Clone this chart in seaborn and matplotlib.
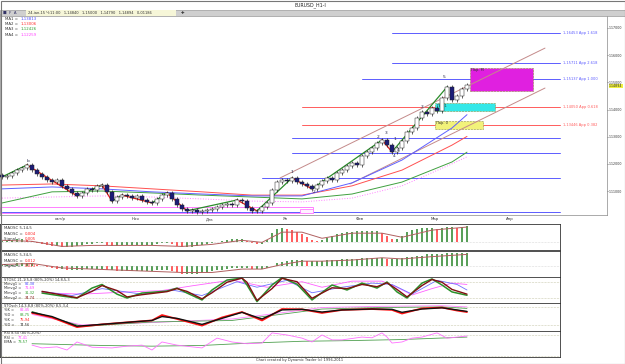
import matplotlib
matplotlib.use("Agg")
import numpy as np
import pandas as pd
import matplotlib.pyplot as plt
import seaborn as sns
from matplotlib.patches import Rectangle

sns.set_theme(style="white")
plt.rcParams["font.family"] = ["DejaVu Sans"]

# --- price data (H1 candles, one per index) ---
closes = [1.1152, 1.1155, 1.1166, 1.1177, 1.1185, 1.1196, 1.1177, 1.1163, 1.1152, 1.1141,
          1.1133, 1.1140, 1.1119, 1.1108, 1.1093, 1.1082, 1.1093, 1.1108, 1.1104, 1.1119,
          1.1122, 1.1097, 1.1063, 1.1078, 1.1085, 1.1082, 1.1074, 1.1080, 1.1067, 1.1060,
          1.1056, 1.1071, 1.1085, 1.1093, 1.1071, 1.1049, 1.1034, 1.1027, 1.1031, 1.1025,
          1.1027, 1.1030, 1.1034, 1.1041, 1.1049, 1.1052, 1.1048, 1.1067, 1.1063, 1.1038,
          1.1027, 1.1027, 1.1041, 1.1056, 1.1104, 1.1133, 1.1141, 1.1136, 1.1148, 1.1133,
          1.1126, 1.1119, 1.1108, 1.1122, 1.1137, 1.1148, 1.1143, 1.1166, 1.1177, 1.1192,
          1.1203, 1.1198, 1.1229, 1.1244, 1.1258, 1.1277, 1.1288, 1.1269, 1.1244, 1.1258,
          1.1284, 1.1317, 1.1332, 1.1369, 1.1391, 1.1384, 1.1406, 1.1395, 1.1442, 1.1483,
          1.1435, 1.1450, 1.1476, 1.1489]
first_open = 1.1158
wick = 0.0008

# moving averages, sampled along the candles
ma_idx = [0, 10, 20, 30, 40, 50, 60, 70, 80, 90, 93]
ma1 = [1.1108, 1.1115, 1.1108, 1.1097, 1.1089, 1.1082, 1.1082, 1.1130, 1.1214, 1.1332, 1.1381]
ma2 = [1.1122, 1.1126, 1.1119, 1.1108, 1.1097, 1.1085, 1.1085, 1.1119, 1.1177, 1.1269, 1.1301]
ma3 = [1.1056, 1.1097, 1.1100, 1.1093, 1.1085, 1.1078, 1.1071, 1.1089, 1.1133, 1.1207, 1.1243]
ma4 = [1.1074, 1.1078, 1.1082, 1.1078, 1.1071, 1.1063, 1.1060, 1.1074, 1.1119, 1.1200, 1.1226]
ma_values = ["1,13813", "1,13006", "1,12426", "1,12259"]

# zigzag pivots (candle indices)
zz_idx = [0, 5, 15, 20, 22, 24, 30, 33, 37, 47, 51, 58, 62, 76, 78, 89]

# channel lines: (start idx, start price, end idx, end price)
channels = [(55.6, 1.1148, 108.6, 1.1626), (69.6, 1.1126, 108.6, 1.1479)]

# fibonacci levels: (start idx, price, colour key, label)
fib_levels = [(78, 1.1682, "b", "1,16453 App 1.618"), (78, 1.1571, "b", "1,15711 App 2.618"),
              (72, 1.1512, "b", "1,15137 App 1.000"), (60, 1.1409, "r", "1,14050 App 0.618"),
              (60, 1.1343, "r", "1,13446 App 0.382"), (58, 1.1295, "b", ""),
              (58, 1.1240, "b", ""), (52, 1.1148, "b", ""), (0, 1.1023, "b", "")]

# support band at the lows: (x0, x1, low, high)
low_band = (-0.4, 62.2, 1.1019, 1.1041)

# target zones: (x0, x1, low, high, colour, label)
zones = [(93.6, 106.2, 1.1468, 1.1553, "#e020e0", "Пар. М"),
         (86.6, 98.6, 1.1395, 1.1424, "#33e8e8", "Пар.1"),
         (86.6, 96.2, 1.1328, 1.1358, "#f2f27a", "Пар. 0")]

wave_labels = [(5.2, 1.1210, "b"), (58, 1.1170, "1"), (62.5, 1.1098, "2"), (75.2, 1.1300, "2"),
               (76.8, 1.1312, "3"), (78.6, 1.1290, "1"), (79.2, 1.1250, "4"), (78.4, 1.1228, "4"),
               (84, 1.1410, "3"), (88.4, 1.1520, "5")]

date_idx = [11.6, 26.6, 41.6, 56.6, 71.6, 86.6, 101.6]
date_labels = ["окт/р", "Ноя", "Дек", "Ян", "Фев", "Мар", "Апр"]
price_ticks = [1.17, 1.16, 1.15, 1.14, 1.13, 1.12, 1.11]
last_price = "1,14894"

# --- MAOSC 5,14,5 and 5,34,5 histograms (one bar per candle) ---
maosc1 = [1, 2, 2, 3, 3, 2, 1, -1, -2, -3, -4, -4, -5, -5, -5, -4, -3, -2, -2, -1,
          -1, -3, -4, -4, -3, -3, -3, -3, -3, -3, -3, -2, -1, -1, -2, -4, -5, -5, -5, -4,
          -3, -2, -1, 0, 1, 2, 3, 3, 3, 1, -1, -2, -2, 2, 9, 13, 14, 13, 12, 10,
          8, 5, 2, 1, 2, 4, 6, 8, 9, 10, 10, 11, 11, 11, 11, 11, 9, 6, 3, 3,
          6, 10, 12, 13, 14, 14, 14, 13, 14, 15, 15, 14, 15, 16]
maosc2 = [1, 1, 1, 2, 2, 2, 2, 1, 0, -1, -2, -3, -3, -4, -4, -4, -4, -3, -3, -3,
          -3, -4, -4, -5, -5, -5, -5, -5, -5, -5, -5, -4, -4, -4, -5, -6, -7, -7, -7, -7,
          -6, -6, -5, -4, -4, -3, -2, -2, -2, -2, -3, -3, -3, -2, 0, 2, 3, 4, 5, 5,
          5, 4, 4, 4, 4, 5, 5, 5, 6, 6, 6, 6, 7, 7, 7, 7, 7, 6, 6, 6,
          7, 8, 8, 9, 9, 10, 10, 10, 10, 11, 11, 11, 11, 11]
sig_idx = [0, 6, 12, 18, 24, 30, 36, 42, 48, 52, 56, 60, 64, 70, 76, 80, 86, 93]
sig1 = [2, 1, -4, -3, -3, -3, -4, -2, 2, 0, 10, 10, 4, 9, 9, 5, 12, 15]
sig2 = [1, 2, -2, -3, -4, -5, -6, -6, -3, -3, 1, 4, 4, 5, 7, 6, 8, 10]

# --- STOSC ---
st_idx = [8, 12, 15, 18, 20, 23, 25, 28, 33, 35, 37, 40, 42, 45, 48, 49, 51, 54, 56, 59,
          62, 66, 69, 72, 75, 77, 79, 81, 84, 86, 88, 90, 93]
st_fast = [39, 28, 21, 57, 70, 35, 21, 39, 46, 57, 39, 14, 50, 86, 93, 68, 8, 68, 95, 71,
           14, 68, 50, 75, 57, 79, 43, 21, 75, 90, 68, 43, 31]
st_fast2 = [45, 32, 22, 45, 66, 48, 25, 33, 44, 55, 45, 18, 40, 78, 93, 78, 12, 55, 92, 80,
            20, 58, 55, 70, 62, 76, 52, 25, 66, 88, 78, 52, 35]
st_b_idx = [8, 14, 20, 24, 28, 34, 40, 47, 51, 57, 62, 68, 74, 78, 82, 87, 91, 93]
st_blue = [45, 30, 55, 45, 35, 50, 30, 80, 60, 85, 40, 60, 75, 70, 35, 85, 70, 50]
st_m_idx = [8, 16, 24, 32, 38, 46, 53, 60, 64, 70, 76, 79, 82, 86, 90, 93]
st_mag = [40, 35, 42, 48, 65, 86, 60, 80, 60, 82, 82, 60, 32, 55, 75, 70]

# --- STOsch ---
sk_idx = [6, 10, 15, 20, 26, 30, 32, 35, 40, 44, 48, 52, 56, 60, 64, 68, 74, 78, 80, 84, 88, 91, 93]
sk_k = [60, 45, 13, 22, 30, 35, 53, 40, 18, 45, 63, 35, 73, 72, 60, 70, 73, 70, 58, 75, 78, 68, 63]
sk_d = [62, 48, 16, 22, 30, 35, 48, 42, 22, 42, 62, 40, 70, 72, 63, 70, 73, 72, 62, 73, 77, 70, 65]
sk_s_idx = [6, 16, 30, 46, 58, 64, 76, 88, 93]
sk_slow_k = [65, 15, 30, 35, 60, 73, 78, 80, 75]
sk_slow_d = [55, 20, 28, 40, 65, 78, 82, 84, 80]

# --- RSI ---
rsi_idx = [6, 8, 11, 13, 15, 18, 22, 25, 28, 30, 32, 35, 38, 40, 43, 46, 49, 52, 54, 57,
           60, 62, 64, 66, 68, 70, 72, 74, 76, 77, 78, 80, 82, 84, 87, 89, 91, 93]
rsi = [51, 43, 46, 37, 60, 45, 43, 48, 51, 37, 60, 51, 46, 43, 71, 60, 55, 57, 86, 80,
       71, 60, 80, 66, 66, 70, 74, 72, 86, 74, 57, 60, 71, 74, 86, 71, 74, 77]
ema_idx = [6, 20, 30, 40, 50, 60, 70, 80, 93]
rsi_ema = [55, 50, 48, 50, 57, 62, 64, 67, 74]

W, H = 625, 364
fig = plt.figure(figsize=(W / 100, H / 100), dpi=100)


def box(x0, y0, x1, y1):
    return [x0 / W, 1 - y1 / H, (x1 - x0) / W, (y1 - y0) / H]


def line(ax, xs, ys, color, lw=0.8, ls="-"):
    d = pd.DataFrame({"x": xs, "y": ys})
    sns.lineplot(data=d, x="x", y="y", ax=ax, color=color, lw=lw, ls=ls,
                 estimator=None, sort=False, legend=False)


XL = -0.4
PX = 5.0

# ---------------- main price panel ----------------
ax = fig.add_axes(box(0, 14, 607, 215))
n = len(closes)
idx = np.arange(n)
opens = [first_open] + closes[:-1]
top = np.maximum(opens, closes)
bot = np.minimum(opens, closes)
up = np.array(closes) >= np.array(opens)

for lvl in fib_levels:
    x0, p, c, lab = lvl
    col = "#5c5cff" if c == "b" else "#ff5c5c"
    ax.plot([x0, 111.6], [p, p], color=col, lw=0.7)
    if lab:
        ax.text(112.2, p, lab, color=col, fontsize=2.6, va="center", ha="left")

bx0, bx1, blo, bhi = low_band
ax.add_patch(Rectangle((bx0, blo), bx1 - bx0, bhi - blo, facecolor="none",
                       edgecolor="#ff80ff", lw=0.7, zorder=2))
ax.add_patch(Rectangle((bx1 - 2.6, blo), 2.6, (bhi - blo) * 0.6, facecolor="#fff0ff",
                       edgecolor="#ff80ff", lw=0.6, zorder=2))

for z in zones:
    x0, x1, lo, hi, col, lab = z
    ax.add_patch(Rectangle((x0, lo), x1 - x0, hi - lo, facecolor=col, edgecolor="#909040",
                           lw=0.4, ls="--", zorder=2))
    ax.text(x0 + 0.3, hi - 0.0002, lab, fontsize=2.6, va="top", ha="left", color="#333333", zorder=3)

for ch in channels:
    ax.plot([ch[0], ch[2]], [ch[1], ch[3]], color="#c48a8a", lw=0.7)

line(ax, ma_idx, ma4, "#ff80ff", 0.7, ":")
line(ax, ma_idx, ma3, "#40a040", 0.7)
line(ax, ma_idx, ma2, "#ff5050", 0.7)
line(ax, ma_idx, ma1, "#6060ff", 0.7)

zz_p = [closes[i] for i in zz_idx]
for a, b in zip(range(len(zz_idx) - 1), range(1, len(zz_idx))):
    col = "#2a8c2a" if zz_p[b] > zz_p[a] else "#e81c1c"
    ax.plot([zz_idx[a], zz_idx[b]], [zz_p[a], zz_p[b]], color=col, lw=0.9, zorder=4)

ax.vlines(idx, bot - wick, top + wick, color="#222222", lw=0.5, zorder=5)
ax.bar(idx, top - bot + 0.00012, bottom=bot - 0.00006, width=0.75,
       color=np.where(up, "#ffffff", "#1c1c78"), edgecolor="#222222", lw=0.35, zorder=6)

for wl in wave_labels:
    ax.text(wl[0], wl[1], wl[2], fontsize=3.2, color="#222244", ha="center", va="center", zorder=7)

ax.set_xlim(XL, XL + 607 / PX)
ax.set_ylim(1.10118, 1.17515)
ax.yaxis.tick_right()
ax.set_yticks(price_ticks)
ax.set_yticklabels([f"{p:.5f}".replace(".", ",") for p in price_ticks], fontsize=2.3, color="#333333")
ax.tick_params(axis="y", length=0.8, width=0.4, pad=0.4)
ax.set_xticks(date_idx)
ax.set_xticklabels(date_labels, fontsize=2.8, color="#333333")
ax.tick_params(axis="x", length=1, width=0.4, pad=0.5)
for s in ax.spines.values():
    s.set_color("#888888")
    s.set_linewidth(0.5)
ax.set_xlabel("")
ax.set_ylabel("")
ax.text(609 / PX + XL, 1.14860, last_price, fontsize=2.3, va="center", ha="left", zorder=8,
        bbox=dict(boxstyle="square,pad=0.1", fc="#f0f040", ec="none"))

lx = 0.6
for k, (v, c) in enumerate(zip(ma_values, ["#4a4aff", "#ff3030", "#2f9f2f", "#ff40ff"])):
    yy = 1.1733 - k * 0.0019
    ax.text(lx, yy, f"MA{k + 1} =", fontsize=2.8, color="#333333", va="center")
    ax.text(lx + 3.2, yy, v, fontsize=2.8, color=c, va="center")

# ---------------- indicator panels ----------------
sub_w = 560
panels = [(224, 250), (251, 277), (277, 303), (303, 331), (331, 357)]
axs = [fig.add_axes(box(0, a, sub_w, b)) for a, b in panels]
for a in axs:
    a.set_xlim(XL, XL + sub_w / PX)
    a.set_xticks([])
    a.set_yticks([])
    a.set_xlabel("")
    for s in a.spines.values():
        s.set_color("#333333")
        s.set_linewidth(0.6)


def hist_panel(a, vals, sidx, sig, lo, hi, title, texts):
    v = np.array(vals, dtype=float)
    prev = np.concatenate([[v[0]], v[:-1]])
    cols = np.where(v >= prev, "#5aa05a", "#ff6060")
    a.bar(idx, v, width=0.3, color=cols, lw=0)
    a.axhline(0, color="#bbbbbb", lw=0.4, ls=":")
    line(a, sidx, sig, "#b06060", 0.7)
    a.set_ylim(lo, hi)
    a.set_ylabel("")
    a.text(0.5, hi - (hi - lo) * 0.08, title, fontsize=2.8, va="top", color="#333333")
    for k, (lab, val) in enumerate(texts):
        yy = hi - (hi - lo) * (0.3 + 0.2 * k)
        a.text(0.5, yy, lab, fontsize=2.8, va="top", color="#333333")
        a.text(4.6, yy, val, fontsize=2.8, va="top", color="#ff2020")


hist_panel(axs[0], maosc1, sig_idx, sig1, -7.5, 18, "MAOSC 5,14,5",
           [("MAOSC =", "0,004"), ("Signal =", "0,005")])
hist_panel(axs[1], maosc2, sig_idx, sig2, -10, 13, "MAOSC 5,34,5",
           [("MAOSC =", "0,012"), ("Signal =", "0,013")])

a = axs[2]
for yv in (80, 20):
    a.axhline(yv, color="#a0a070", lw=0.4, ls=":")
line(a, st_m_idx, st_mag, "#ff60ff", 0.6)
line(a, st_b_idx, st_blue, "#7070ff", 0.6)
line(a, st_idx, st_fast, "#2a902a", 1.1)
line(a, st_idx, st_fast2, "#801010", 1.0)
a.set_ylim(3, 97)
a.set_ylabel("")
a.text(0.5, 95, "STOSC 21,1(5,8 (80%-20%) 14,8,5,3", fontsize=2.6, va="top", color="#333333")
for k, (lab, val, c) in enumerate([("Minvg1 =", "82,38", "#4a4aff"), ("Minvg2 =", "71,69", "#ff40ff"),
                                   ("Minvg1 =", "31,32", "#2f9f2f"), ("Minvg2 =", "34,74", "#801010")]):
    yy = 80 - k * 17
    a.text(0.5, yy, lab, fontsize=2.6, va="top", color="#333333")
    a.text(4.6, yy, val, fontsize=2.6, va="top", color=c)

a = axs[3]
for yv in (80, 20):
    a.axhline(yv, color="#a0a070", lw=0.4, ls=":")
line(a, sk_s_idx, sk_slow_d, "#ff80ff", 0.6)
line(a, sk_s_idx, sk_slow_k, "#50a050", 0.6)
line(a, sk_idx, sk_k, "#ff1010", 1.3)
line(a, sk_idx, sk_d, "#101010", 1.0)
a.set_ylim(0, 93)
a.set_ylabel("")
a.text(0.5, 91, "STOsch 14,3,8,8 (80%-20%) 8,5,3,4", fontsize=2.6, va="top", color="#333333")
for k, (lab, val, c) in enumerate([("%K =", "82,45", "#ff40ff"), ("%D =", "83,75", "#2f9f2f"),
                                   ("%K =", "75,94", "#ff2020"), ("%D =", "74,56", "#333333")]):
    yy = 76 - k * 16
    a.text(0.5, yy, lab, fontsize=2.6, va="top", color="#333333")
    a.text(3.6, yy, val, fontsize=2.6, va="top", color=c)

a = axs[4]
for yv in (80, 20):
    a.axhline(yv, color="#a0a070", lw=0.4, ls=":")
line(a, ema_idx, rsi_ema, "#50a050", 0.6)
line(a, rsi_idx, rsi, "#ff70ff", 0.6)
a.set_ylim(17, 91.4)
a.set_ylabel("")
a.text(0.5, 90, "RSI 8,50 (80%-20%)", fontsize=2.6, va="top", color="#333333")
a.text(0.5, 78, "RSI =", fontsize=2.6, va="top", color="#333333")
a.text(3.2, 78, "77,41", fontsize=2.6, va="top", color="#ff40ff")
a.text(0.5, 66, "EMA =", fontsize=2.6, va="top", color="#333333")
a.text(3.2, 66, "73,57", fontsize=2.6, va="top", color="#2f9f2f")

# ---------------- frame, header, footer ----------------
fig.patches.append(Rectangle((0, 1 - 16 / H), 1, 6 / H, transform=fig.transFigure,
                             facecolor="#cfcfcf", edgecolor="#888888", lw=0.4))
fig.patches.append(Rectangle((26 / W, 1 - 16 / H), 150 / W, 6 / H, transform=fig.transFigure,
                             facecolor="#f6f6d8", edgecolor="none"))
fig.text(3 / W, 1 - 13 / H, "■  F  A", fontsize=2.8, va="center", color="#333366")
fig.text(28 / W, 1 - 13 / H,
         "24-ian-15 Ч:11:00   1,14840   1,15000   1,14790   1,14894   0,01186",
         fontsize=2.6, va="center", color="#333333")
fig.text(181 / W, 1 - 13 / H, "✚", fontsize=3, va="center", color="#333333")
fig.text(310 / W, 1 - 5 / H, "EURUSD_H1-I", fontsize=3.4, ha="center", va="center", color="#222222")
fig.text(300 / W, 1 - 360.5 / H, "Chart created by Dynamic Trader (c) 1996-2011",
         fontsize=2.6, ha="center", va="center", color="#333333")
fig.patches.append(Rectangle((0.5 / W, 0.5 / H), 1 - 1 / W, 1 - 1 / H, transform=fig.transFigure,
                             facecolor="none", edgecolor="#777777", lw=0.8))

fig.savefig("out.png", dpi=100)
